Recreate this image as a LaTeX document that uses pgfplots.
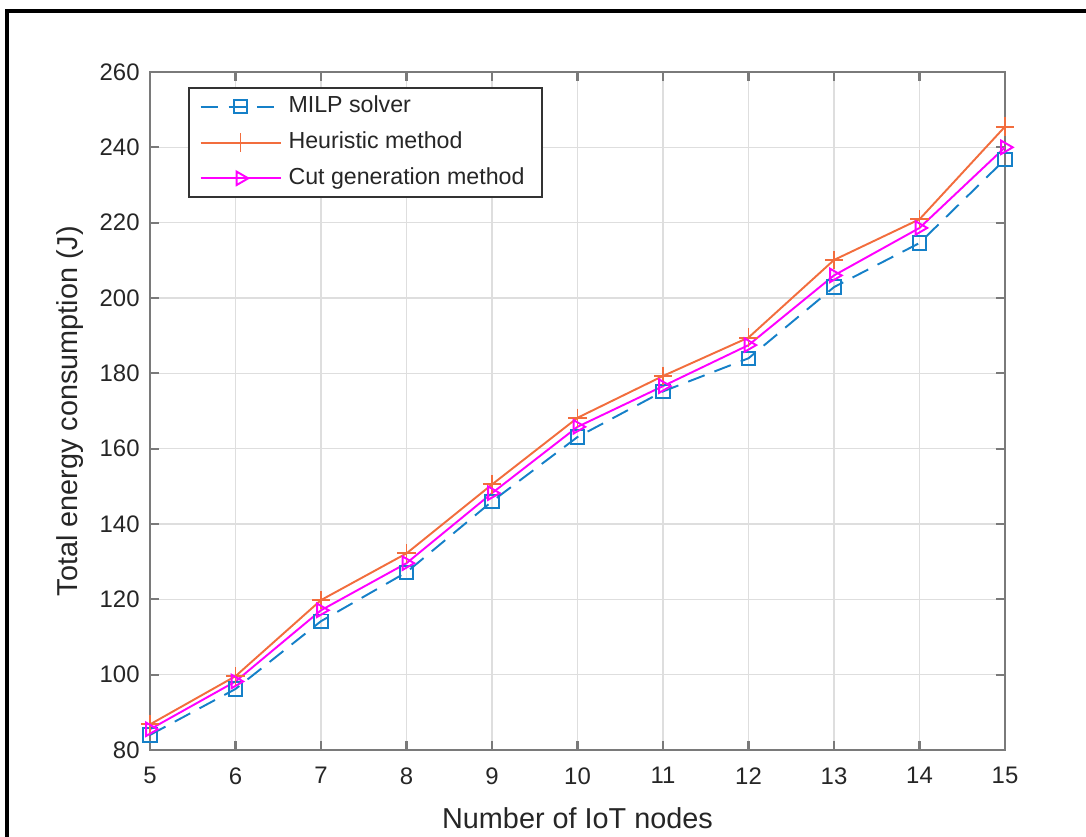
\documentclass[border=0pt]{standalone}
\usepackage{fontspec}
\setmainfont{Liberation Sans}
\usepackage{pgfplots}
\pgfplotsset{compat=1.18}
\definecolor{mblue}{HTML}{1580C8}
\definecolor{morange}{HTML}{F26D3D}
\definecolor{mmag}{HTML}{FF00FF}
\definecolor{axgray}{HTML}{7A7A7A}
\definecolor{txt}{HTML}{262626}
\begin{document}
\begin{tikzpicture}
\useasboundingbox (0,0) rectangle (10.86,8.36);
\draw[line width=0.9pt] (0.07,-1) -- (0.07,8.25) -- (12,8.25);
\begin{axis}[
 at={(1.50cm,0.86cm)}, anchor=south west, scale only axis,
 width=8.55cm, height=6.78cm,
 xmin=5, xmax=15, ymin=80, ymax=260,
 xtick={5,...,15}, ytick={80,100,...,260},
 grid=major, grid style={black!13, line width=0.4pt},
 axis line style={axgray, line width=0.7pt},
 tick style={axgray, line width=0.6pt}, major tick length=0.09cm, tick align=inside,
 font=\fontsize{6.8}{8}\selectfont,
 ticklabel style={text=txt},
 xticklabel style={yshift=-0.05cm},
 yticklabel style={xshift=0.02cm},
 /pgf/number format/assume math mode=true,
 xlabel={Number of IoT nodes}, ylabel={Total energy consumption (J)},
 every axis x label/.style={at={(axis description cs:0.5,-0.100)},anchor=center,
   font=\fontsize{8.2}{10}\selectfont, text=txt},
 every axis y label/.style={at={(axis description cs:-0.0936,0.5)},rotate=90,anchor=center,
   font=\fontsize{8.2}{10}\selectfont, text=txt},
 legend style={at={(axis description cs:0.0444,0.978)}, anchor=north west,
   draw=black!80, line width=0.6pt, fill=white, text=txt,
   font=\fontsize{6.6}{8}\selectfont, row sep=0.7pt, inner xsep=3pt, inner ysep=0.6pt,
   nodes={inner ysep=1.6pt},
   cells={anchor=west}},
 legend image code/.code={\draw[mark repeat=2,mark phase=2,#1] plot coordinates {(0cm,0cm) (0.4cm,0cm) (0.8cm,0cm)};},
]
\addplot[mblue, line width=0.55pt, dash pattern=on 5pt off 3pt, mark=square, mark size=1.9pt, mark options={solid}]
 coordinates {(5,84.0) (6,96.2) (7,114.2) (8,127.2) (9,146.0) (10,163.1) (11,175.2) (12,184.0) (13,202.9) (14,214.6) (15,236.8)};
\addlegendentry{MILP solver}
\addplot[morange, line width=0.55pt, mark=+, mark size=2.6pt, mark options={solid}]
 coordinates {(5,86.8) (6,99.6) (7,119.8) (8,132.2) (9,150.5) (10,168.2) (11,179.3) (12,189.5) (13,210.1) (14,220.9) (15,245.5)};
\addlegendentry{Heuristic method}
\addplot[mmag, line width=0.55pt, mark=triangle, mark size=2.2pt, mark options={solid, rotate=-90}]
 coordinates {(5,85.5) (6,98.2) (7,117.1) (8,129.6) (9,148.2) (10,165.8) (11,176.6) (12,187.5) (13,206.0) (14,218.6) (15,240.0)};
\addlegendentry{Cut generation method}
\end{axis}
\end{tikzpicture}
\end{document}
